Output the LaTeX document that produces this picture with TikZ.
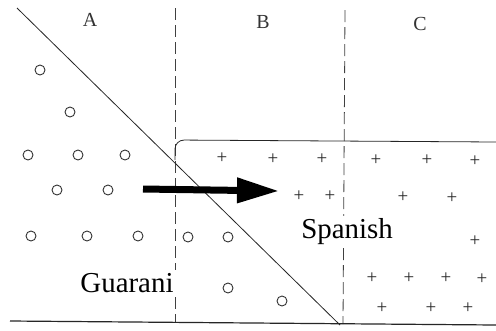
\documentclass[tikz,border=0pt]{standalone}
\usepackage{fontspec}
\setmainfont{Liberation Serif}
\usetikzlibrary{arrows.meta}
\begin{document}
\begin{tikzpicture}[x=1bp,y=-1bp,
  thinline/.style={line width=0.8bp,black!85},
  dashline/.style={line width=0.8bp,black!75,dash pattern=on 12bp off 5bp},
  circ/.style={ellipse,draw=black!80,line width=0.9bp,minimum width=10bp,minimum height=9bp,inner sep=0pt},
  plus/.style={inner sep=0pt,font=\fontsize{19}{19}\selectfont,text=black!85},
  region/.style={font=\fontsize{20}{20}\selectfont,text=black!80},
  lang/.style={fill=white,inner sep=3bp,font=\fontsize{29}{29}\selectfont}]
\useasboundingbox (0,0) rectangle (496,330);
\fill[white] (0,0) rectangle (496,330);
% region letters
\node[region] (A) at (90,20) {A};
\node[region] (B) at (263,22) {B};
\node[region] (C) at (420,24) {C};
% dashed borders
\coordinate (d1t) at (175,8); \coordinate (d1b) at (175,322);
\coordinate (d2t) at (345,10); \coordinate (d2b) at (343,324);
\draw[dashline] (d1t) -- (d1b);
\draw[dashline] (d2t) -- (d2b);
% diagonal
\coordinate (g1) at (17,8); \coordinate (g2) at (340,325);
\draw[thinline] (g1) -- (g2);
% box top
\coordinate (b1) at (175,160); \coordinate (b2) at (496,142);
\draw[thinline,rounded corners=9bp] (b1) -- (175,140) -- (b2);
% bottom line
\coordinate (l1) at (10,321); \coordinate (l2) at (496,325);
\draw[line width=1.2bp,black!85] (l1) -- (l2);
% circles
\foreach \x/\y [count=\i] in {40/70,70/112,28/155,78/155,125/155,57/190,108/190,31/236,87/236,138/236,188/237,228/237,228/288,282/301}
  \node[circle,draw=black!80,line width=0.9bp,minimum size=10bp,inner sep=0pt] (o\i) at (\x,\y) {};
% pluses
\foreach \x/\y [count=\i] in {222/158,273/159,322/159,376/160,427/160,475/161,299/196,330/196,403/197,452/198,475/241,372/278,409/278,446/278,482/279,382/308,431/308,468/308}
  \node[plus] (p\i) at (\x,\y) {+};
% arrow
\coordinate (a1) at (143,189); \coordinate (a2) at (279,191);
\draw[line width=7bp,-{Triangle[length=42bp,width=24bp]}] (a1) -- (a2);
% labels
\node[lang] (gua) at (127,283) {Guarani};
\node[lang] (spa) at (347,232) {Spanish};
\end{tikzpicture}
\end{document}
